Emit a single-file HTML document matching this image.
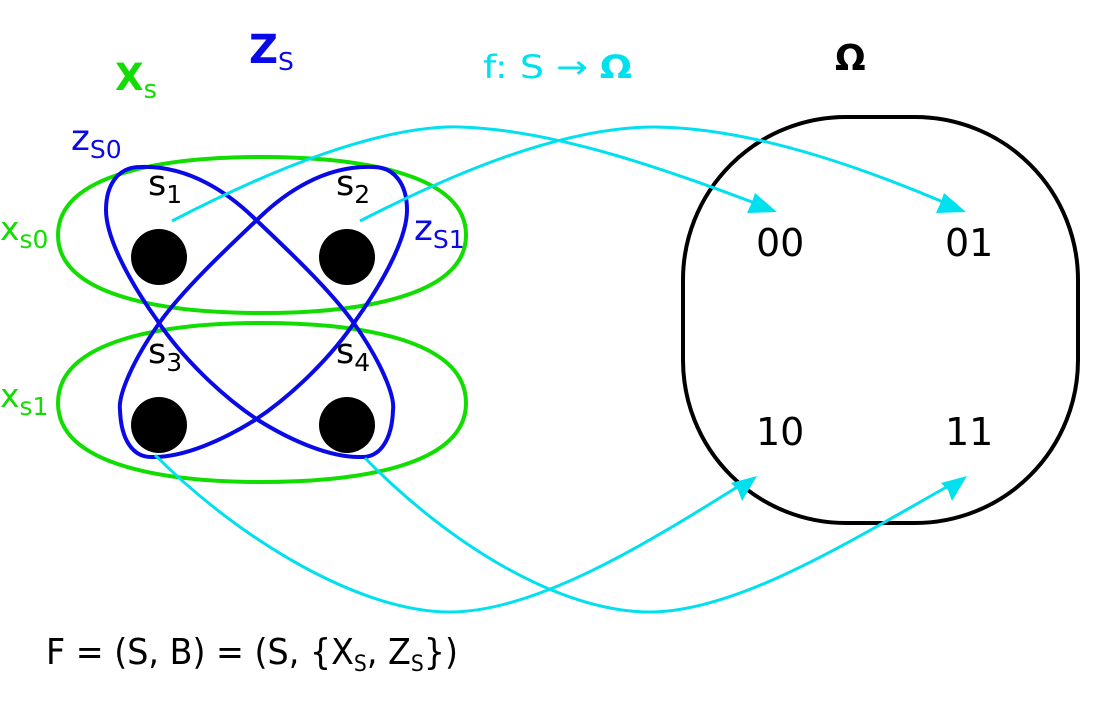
<!DOCTYPE html>
<html><head><meta charset="utf-8"><style>
html,body{margin:0;padding:0;background:#fff;}
svg{display:block;}
text{font-family:"DejaVu Sans","Liberation Sans",sans-serif;}
</style></head><body>
<svg width="1112" height="710" viewBox="0 0 1112 710" xmlns="http://www.w3.org/2000/svg">
<!-- Omega box -->
<path d="M846,117 L915,117 A163,163 0 0 1 1078,280 L1078,360 A163,163 0 0 1 915,523 L846,523 A163,163 0 0 1 683,360 L683,280 A163,163 0 0 1 846,117 Z" fill="none" stroke="#000" stroke-width="4"/>
<!-- green -->
<path d="M58,235 C58,172 170,157 262,157 C354,157 466,172 466,235 C466,298 354,313 262,313 C170,313 58,298 58,235 Z" fill="none" stroke="#11dd00" stroke-width="4"/>
<path d="M58,403 C58,338 170,323 262,323 C354,323 466,338 466,403 C466,467 354,482 262,482 C170,482 58,467 58,403 Z" fill="none" stroke="#11dd00" stroke-width="4"/>
<!-- dots -->
<circle cx="159" cy="257" r="28"/>
<circle cx="347" cy="257" r="28"/>
<circle cx="159" cy="425" r="28"/>
<circle cx="347" cy="425" r="28"/>
<!-- blue loops -->
<path id="lp" d="M140,167 C190,165 230,195 253,217 C290,252 330,290 353,322 C380,360 395,395 393,410 C392,440 380,457 362,457 C330,458 290,440 258,420 C220,395 180,355 157,320 C125,275 106,235 106,210 C106,185 118,167 140,167 Z" fill="none" stroke="#0a0ae6" stroke-width="4"/>
<path d="M140,167 C190,165 230,195 253,217 C290,252 330,290 353,322 C380,360 395,395 393,410 C392,440 380,457 362,457 C330,458 290,440 258,420 C220,395 180,355 157,320 C125,275 106,235 106,210 C106,185 118,167 140,167 Z" transform="translate(513,0) scale(-1,1)" fill="none" stroke="#0a0ae6" stroke-width="4"/>
<!-- cyan arrows -->
<g fill="none" stroke="#00e0ee" stroke-width="3">
<path d="M172,221 C270,170 380,125 460,127 C560,130 680,175 760,205"/>
<path d="M360,221 C450,175 560,127 655,127 C760,128 880,175 950,205"/>
<path d="M155,455 C240,540 360,612 450,612 C540,612 660,535 742,484"/>
<path d="M365,458 C450,545 560,612 650,612 C740,612 860,535 952,484"/>
</g>
<g fill="#00e0ee">
<polygon points="777,212 747,213 752,202 755,193"/>
<polygon points="966,212 936,213 941,202 944,193"/>
<polygon points="757,476 742,501 738,490 731,483"/>
<polygon points="967,476 952,501 948,490 941,483"/>
</g>
<!-- labels -->
<text x="115" y="90" font-size="37" font-weight="bold" fill="#11dd00">X<tspan font-size="26" font-weight="normal" dy="8">s</tspan></text>
<text x="249" y="63" font-size="40" font-weight="bold" fill="#0a0ae6">Z<tspan font-size="25" font-weight="normal" dy="7">S</tspan></text>
<text x="483" y="78" font-size="32" fill="#00e0ee" textLength="149" lengthAdjust="spacingAndGlyphs">f: S → <tspan font-weight="bold">Ω</tspan></text>
<text x="835" y="70" font-size="36" font-weight="bold" fill="#000">Ω</text>
<text x="71" y="150" font-size="36" fill="#0a0ae6">z<tspan font-size="25" dy="8">S0</tspan></text>
<text x="414" y="240" font-size="36" fill="#0a0ae6">z<tspan font-size="25" dy="8">S1</tspan></text>
<text x="0" y="240" font-size="33" fill="#11dd00">x<tspan font-size="25" dy="8">s0</tspan></text>
<text x="0" y="407" font-size="33" fill="#11dd00">x<tspan font-size="25" dy="8">s1</tspan></text>
<g fill="#000">
<text x="148" y="195" font-size="35">s<tspan font-size="25" dy="8">1</tspan></text>
<text x="336" y="195" font-size="35">s<tspan font-size="25" dy="8">2</tspan></text>
<text x="148" y="363" font-size="35">s<tspan font-size="25" dy="8">3</tspan></text>
<text x="336" y="363" font-size="35">s<tspan font-size="25" dy="8">4</tspan></text>
<text x="756" y="256" font-size="38">00</text>
<text x="945" y="256" font-size="38">01</text>
<text x="756" y="445" font-size="38">10</text>
<text x="945" y="445" font-size="38">11</text>
<text x="46" y="664" font-size="36" textLength="412" lengthAdjust="spacingAndGlyphs">F = (S, B) = (S, {X<tspan font-size="22" dy="7">S</tspan><tspan dy="-7">, Z</tspan><tspan font-size="22" dy="7">S</tspan><tspan dy="-7">})</tspan></text>
</g>
</svg>
</body></html>
